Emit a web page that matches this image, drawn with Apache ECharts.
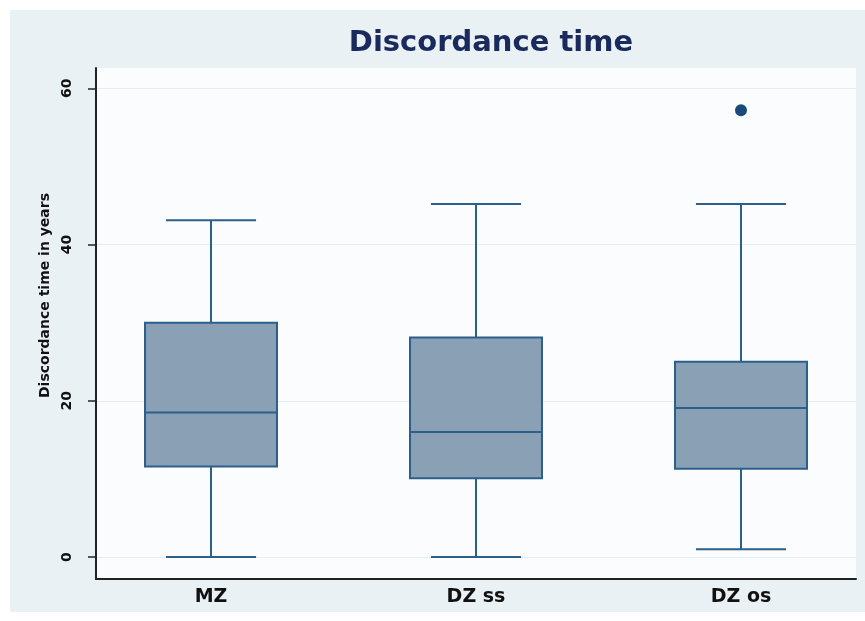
<!DOCTYPE html>
<html>
<head>
<meta charset="utf-8">
<script src="https://cdn.jsdelivr.net/npm/echarts@6/dist/echarts.min.js"></script>
<style>
  html, body { margin: 0; padding: 0; background: #ffffff; overflow: hidden; }
  #wrap { position: relative; width: 865px; height: 621px; overflow: hidden; }
  #bg { position: absolute; left: 10px; top: 10px; width: 855px; height: 602px; background: #e9f1f4; }
  #chart { position: absolute; left: 0; top: 0; width: 900px; height: 621px; }
</style>
</head>
<body>
<div id="wrap">
  <div id="bg"></div>
  <div id="chart"></div>
</div>
<script>
// 数据
var categories = ['MZ', 'DZ ss', 'DZ os'];
var lowWhisker = [0, 0, 1];
var q1 = [11.6, 10.1, 11.3];
var median = [18.5, 16.0, 19.1];
var q3 = [30.0, 28.1, 25.0];
var highWhisker = [43.1, 45.2, 45.2];
var outliers = [['DZ os', 57.2]];
var yTicks = [0, 20, 40, 60];

var boxData = [];
for (var i = 0; i < categories.length; i++) {
    boxData.push([i, lowWhisker[i], q1[i], median[i], q3[i], highWhisker[i]]);
}

var lineColor = '#2b5f8c';
var fillColor = '#8aa0b4';

// 自绘箱线图, 须线端较箱体窄
function renderBox(params, api) {
    var x = api.value(0);
    var lo = api.coord([x, api.value(1)]);
    var b1 = api.coord([x, api.value(2)]);
    var md = api.coord([x, api.value(3)]);
    var b3 = api.coord([x, api.value(4)]);
    var hi = api.coord([x, api.value(5)]);
    var band = api.size([1, 0])[0];
    var hw = band * 0.249, cw = band * 0.17;
    var cx = lo[0];
    var ls = {stroke: lineColor, lineWidth: 2};
    return {
        type: 'group',
        children: [
            {type: 'line', shape: {x1: cx, y1: b3[1], x2: cx, y2: hi[1]}, style: ls},
            {type: 'line', shape: {x1: cx, y1: b1[1], x2: cx, y2: lo[1]}, style: ls},
            {type: 'line', shape: {x1: cx - cw, y1: hi[1], x2: cx + cw, y2: hi[1]}, style: ls},
            {type: 'line', shape: {x1: cx - cw, y1: lo[1], x2: cx + cw, y2: lo[1]}, style: ls},
            {type: 'rect', shape: {x: cx - hw, y: b3[1], width: hw * 2, height: b1[1] - b3[1]},
                style: {fill: fillColor, stroke: lineColor, lineWidth: 2}},
            {type: 'line', shape: {x1: cx - hw, y1: md[1], x2: cx + hw, y2: md[1]}, style: ls}
        ]
    };
}

var yMin = -2.8, yMax = 62.6;
var myChart = echarts.init(document.getElementById('chart'), null, {renderer: 'canvas'});
var option = {
    backgroundColor: 'transparent',
    animation: false,
    title: {
        text: 'Discordance time',
        left: 486,
        top: 24,
        textAlign: 'center',
        textStyle: {fontFamily: 'DejaVu Sans', fontWeight: 'bold', fontSize: 29, color: '#1b2a5c'}
    },
    grid: [
        {left: 96, top: 68, width: 760, height: 511, show: true, backgroundColor: '#fafcfd', borderWidth: 0},
        {left: 78.5, top: 68, width: 795, height: 511}
    ],
    xAxis: [
        {
            type: 'value', gridIndex: 0, min: 0, max: 1,
            axisLine: {show: true, onZero: false, lineStyle: {color: '#222', width: 2}},
            axisTick: {show: false}, axisLabel: {show: false}, splitLine: {show: false}
        },
        {
            type: 'category', gridIndex: 1, data: categories, boundaryGap: true,
            axisLine: {show: false, onZero: false}, axisTick: {show: false}, splitLine: {show: false},
            axisLabel: {margin: 9, fontFamily: 'DejaVu Sans', fontWeight: 'bold', fontSize: 19, color: '#111'}
        }
    ],
    yAxis: [
        {
            type: 'value', gridIndex: 0, min: yMin, max: yMax,
            name: 'Discordance time in years',
            nameLocation: 'middle',
            nameGap: 42,
            nameTextStyle: {fontFamily: 'DejaVu Sans', fontWeight: 'bold', fontSize: 14, color: '#111', padding: [0, 0, 0, 56]},
            axisLine: {show: true, onZero: false, lineStyle: {color: '#222', width: 2}},
            axisTick: {show: true, length: 8, customValues: yTicks, lineStyle: {color: '#222', width: 1.5}},
            axisLabel: {customValues: yTicks, rotate: 90, margin: 22, fontFamily: 'DejaVu Sans', fontWeight: 'bold', fontSize: 14, color: '#111'},
            splitLine: {show: true, lineStyle: {color: '#e4eef3', width: 1}}
        },
        {type: 'value', gridIndex: 1, min: yMin, max: yMax, show: false}
    ],
    series: [
        {
            name: 'box', type: 'custom', xAxisIndex: 1, yAxisIndex: 1,
            renderItem: renderBox, data: boxData, encode: {x: 0, y: [1, 2, 3, 4, 5]}
        },
        {
            name: 'outlier', type: 'scatter', xAxisIndex: 1, yAxisIndex: 1,
            symbolSize: 12, itemStyle: {color: '#1a4a7a', opacity: 1}, data: outliers
        }
    ]
};
myChart.setOption(option);
</script>
</body>
</html>
